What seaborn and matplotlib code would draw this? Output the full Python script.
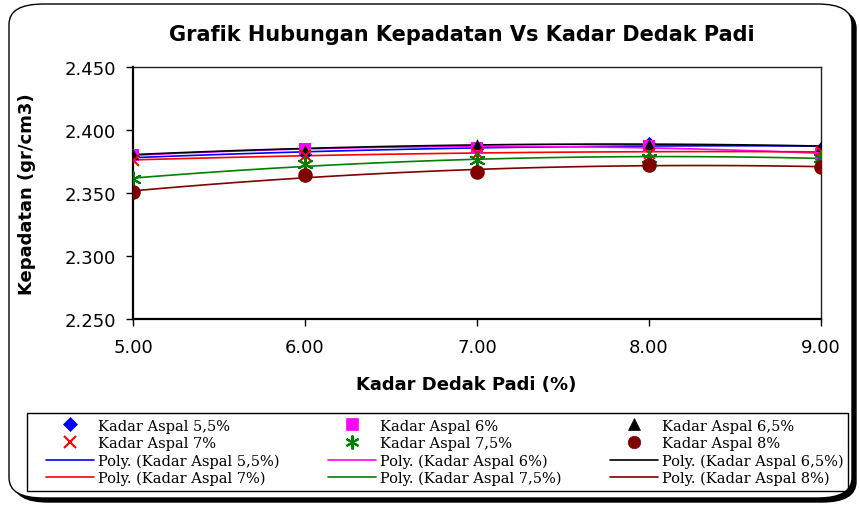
import numpy as np
import pandas as pd
import matplotlib
matplotlib.use("Agg")
import matplotlib.pyplot as plt
import seaborn as sns
from matplotlib.patches import FancyBboxPatch, Rectangle
from matplotlib.lines import Line2D

# data
kadar_dedak = [5.0, 6.0, 7.0, 8.0, 9.0]
series_names = ["Kadar Aspal 5,5%", "Kadar Aspal 6%", "Kadar Aspal 6,5%",
                "Kadar Aspal 7%", "Kadar Aspal 7,5%", "Kadar Aspal 8%"]
aspal_55 = [2.379, 2.381, 2.385, 2.390, 2.386]
aspal_6 = [2.380, 2.385, 2.386, 2.387, 2.381]
aspal_65 = [2.381, 2.384, 2.389, 2.389, 2.387]
aspal_7 = [2.376, 2.380, 2.382, 2.382, 2.383]
aspal_75 = [2.361, 2.373, 2.376, 2.378, 2.378]
aspal_8 = [2.351, 2.364, 2.367, 2.372, 2.371]

colors = ["#0000FF", "#FF00FF", "#000000", "#FF0000", "#008000", "#800000"]
markers = ["D", "s", "^", "x", (6, 2, 0), "o"]
msizes = [45, 70, 60, 60, 110, 110]

values = [aspal_55, aspal_6, aspal_65, aspal_7, aspal_75, aspal_8]
df = pd.DataFrame({
    "x": np.tile(kadar_dedak, len(series_names)),
    "y": np.concatenate(values),
    "seri": np.repeat(series_names, len(kadar_dedak)),
})

# polynomial (order 2) trendlines like Excel
xs = np.linspace(5, 9, 100)
trend_rows = []
for name, v in zip(series_names, values):
    c = np.polyfit(kadar_dedak, v, 2)
    trend_rows.append(pd.DataFrame({"x": xs, "y": np.polyval(c, xs), "seri": name}))
trend = pd.concat(trend_rows)

sns.set_style("white")
plt.rcParams["font.family"] = ["DejaVu Sans"]
plt.rcParams["text.color"] = "black"
plt.rcParams["axes.labelcolor"] = "black"
plt.rcParams["xtick.color"] = "black"
plt.rcParams["ytick.color"] = "black"

fig = plt.figure(figsize=(8.59, 5.06), dpi=100)
ax = fig.add_axes([133 / 859, 1 - 320 / 506, 688 / 859, 252 / 506])

pal = dict(zip(series_names, colors))
sns.lineplot(data=trend, x="x", y="y", hue="seri", palette=pal, lw=1.2,
             legend=False, ax=ax, zorder=2)
for name, col, mk, ms in zip(series_names, colors, markers, msizes):
    sub = df[df["seri"] == name]
    lw = 1.5 if mk in ("x", (6, 2, 0)) else 0
    sns.scatterplot(data=sub, x="x", y="y", color=col, marker=mk, s=ms,
                    linewidth=lw, edgecolor=col, ax=ax, zorder=3, legend=False)

ax.set_xlim(5, 9)
ax.set_ylim(2.25, 2.45)
ax.set_xticks(kadar_dedak)
ax.set_xticklabels([f"{t:.2f}" for t in kadar_dedak])
yt = [2.25, 2.30, 2.35, 2.40, 2.45]
ax.set_yticks(yt)
ax.set_yticklabels([f"{t:.3f}" for t in yt])
ax.tick_params(axis="both", direction="out", length=5, width=1, color="black",
               labelsize=13, pad=7, bottom=True, left=True)
ax.tick_params(axis="x", pad=9)
for s in ["left", "bottom"]:
    ax.spines[s].set_color("black")
    ax.spines[s].set_linewidth(1.6)
for s in ["top", "right"]:
    ax.spines[s].set_color("#222222")
    ax.spines[s].set_linewidth(1.0)

ax.set_xlabel("Kadar Dedak Padi (%)", fontsize=13, fontweight="bold")
ax.set_ylabel("Kepadatan (gr/cm3)", fontsize=13, fontweight="bold")
ax.xaxis.set_label_coords(0.484, -0.222)
ax.yaxis.set_label_coords(-0.141, 0.5)

fig.text(462 / 859, 1 - 35 / 506, "Grafik Hubungan Kepadatan Vs Kadar Dedak Padi",
         ha="center", va="center", fontsize=15, fontweight="bold")

# legend, entries ordered to fill rows like the reference
mk_handles = [Line2D([], [], ls="none", marker=m, color=c, markersize=s,
                     markeredgewidth=1.5 if m in ("x", (6, 2, 0)) else 0.5)
              for m, c, s in zip(markers, colors, [7, 8, 8, 8, 10, 9])]
ln_handles = [Line2D([], [], color=c, lw=1.2) for c in colors]
mk_labels = series_names
ln_labels = [f"Poly. ({n})" for n in series_names]
order = [(0, 3), (1, 4), (2, 5)]
handles, labels = [], []
for a, b in order:
    handles += [mk_handles[a], mk_handles[b], ln_handles[a], ln_handles[b]]
    labels += [mk_labels[a], mk_labels[b], ln_labels[a], ln_labels[b]]
leg = fig.legend(handles, labels, ncol=3, loc="center left", mode="expand",
                 bbox_to_anchor=(46 / 859, 1 - 490 / 506, 798 / 859, 74 / 506),
                 prop={"family": "DejaVu Serif", "size": 10.5},
                 frameon=False, handlelength=3.3, handletextpad=0.3,
                 borderpad=0.0, labelspacing=0.23, borderaxespad=0)
fig.patches.append(Rectangle((27 / 859, 1 - 492 / 506), 821 / 859, 78 / 506,
                             transform=fig.transFigure, facecolor="none",
                             edgecolor="black", lw=1.0))

# rounded outer border with shadow
shadow = FancyBboxPatch((14 / 859, 1 - 503 / 506), 842 / 859, 494 / 506,
                        boxstyle="round,pad=0,rounding_size=0.04",
                        transform=fig.transFigure, facecolor="black",
                        edgecolor="black", zorder=-2)
border = FancyBboxPatch((9 / 859, 1 - 499 / 506), 843 / 859, 494 / 506,
                        boxstyle="round,pad=0,rounding_size=0.04",
                        transform=fig.transFigure, facecolor="white",
                        edgecolor="black", lw=1.0, zorder=-1)
fig.patches[:0] = [shadow, border]

fig.savefig("out.png", dpi=100)
